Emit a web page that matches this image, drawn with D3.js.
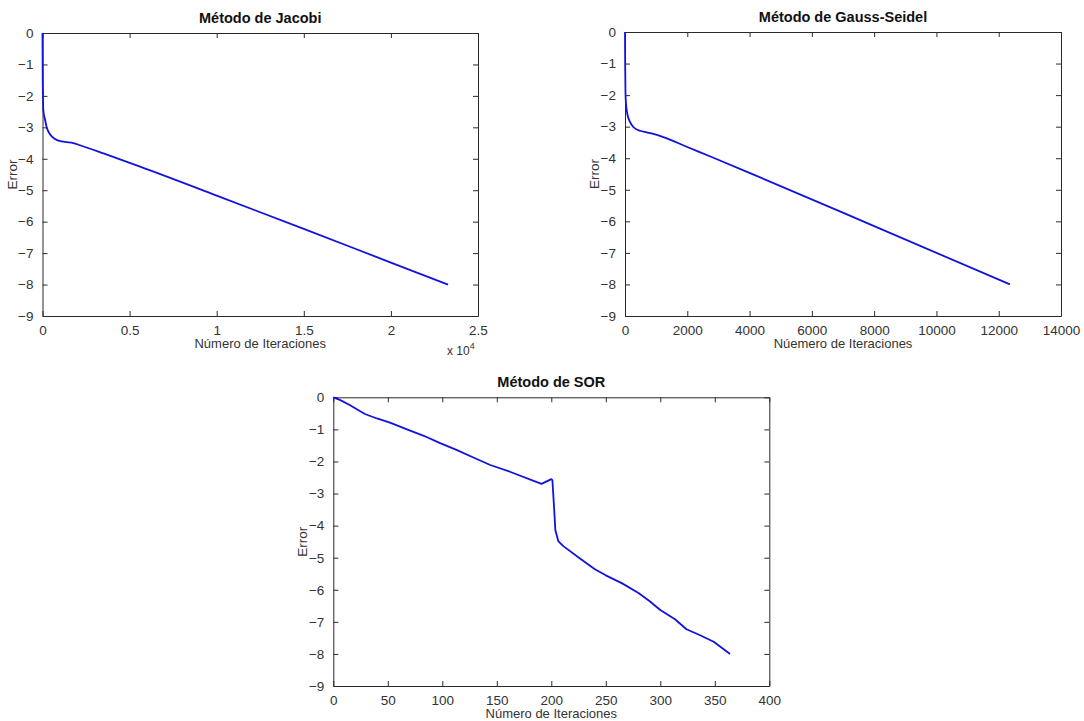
<!DOCTYPE html>
<html><head><meta charset="utf-8">
<script src="https://cdn.jsdelivr.net/npm/d3@7"></script>
<style>
body{margin:0;background:#fff;}
svg{display:block;font-family:"Liberation Sans",Arial,sans-serif;}
</style></head>
<body>
<svg id="c" width="1084" height="721"></svg>
<script>
// ---- data ----
const jacobiIter = [0, 10, 30, 46, 144, 241, 430, 718, 1102, 1389, 1768, 2153, 3500, 5600, 10000, 15000, 20000, 23280];
const jacobiErr  = [0, -1.2, -2.1, -2.45, -2.75, -3.0, -3.22, -3.37, -3.45, -3.47, -3.5, -3.57, -3.83, -4.25, -5.17, -6.23, -7.3, -8.0];
const gaussIter = [0, 5, 15, 32, 74, 161, 267, 482, 697, 909, 1230, 2000, 2800, 4014, 8000, 12360];
const gaussErr  = [0, -1.0, -1.9, -2.27, -2.59, -2.85, -3.01, -3.13, -3.18, -3.23, -3.33, -3.645, -3.97, -4.47, -6.15, -8.0];
const sorIter = [0, 6, 15, 29, 40, 52, 67, 83, 98, 113, 128, 144, 162, 191, 200, 201, 202.5, 203.7, 206.4, 211, 226, 240, 250, 265, 280, 290, 300, 313.5, 324, 336, 349, 364];
const sorErr  = [0, -0.08, -0.24, -0.52, -0.66, -0.79, -0.99, -1.2, -1.43, -1.64, -1.87, -2.11, -2.32, -2.7, -2.55, -2.58, -3.41, -4.14, -4.48, -4.64, -5.02, -5.36, -5.55, -5.8, -6.1, -6.35, -6.63, -6.92, -7.23, -7.41, -7.62, -8.0];

const yTicks = [0, -1, -2, -3, -4, -5, -6, -7, -8, -9];
const jacobiXTicks = [0, 5000, 10000, 15000, 20000, 25000];
const jacobiXLabels = ["0", "0.5", "1", "1.5", "2", "2.5"];
const gaussXTicks = [0, 2000, 4000, 6000, 8000, 10000, 12000, 14000];
const sorXTicks = [0, 50, 100, 150, 200, 250, 300, 350, 400];

const titles = ["Método de Jacobi", "Método de Gauss-Seidel", "Método de SOR"];
const xLabels = ["Número de Iteraciones", "Núemero de Iteraciones", "Número de Iteraciones"];
const yLabel = "Error";

const svg = d3.select("#c");
const axisColor = "#2a2a2a";
const lineColor = "#1212e0";

function panel(o) {
  const g = svg.append("g");
  const x = d3.scaleLinear().domain(o.xDomain).range([o.left, o.right]);
  const y = d3.scaleLinear().domain([-9, 0]).range([o.bottom, o.top]);
  const tickFmt = (d, i) => o.xLabels ? o.xLabels[i] : String(d);

  const gb = g.append("g").attr("transform", `translate(0,${o.bottom})`)
    .call(d3.axisBottom(x).tickValues(o.xTicks).tickFormat(tickFmt).tickSizeInner(-5).tickSizeOuter(0).tickPadding(9));
  const gt = g.append("g").attr("transform", `translate(0,${o.top})`)
    .call(d3.axisTop(x).tickValues(o.xTicks).tickFormat("").tickSizeInner(-5).tickSizeOuter(0));
  const gl = g.append("g").attr("transform", `translate(${o.left},0)`)
    .call(d3.axisLeft(y).tickValues(yTicks).tickFormat(d3.format("d")).tickSizeInner(-5).tickSizeOuter(0).tickPadding(9));
  const gr = g.append("g").attr("transform", `translate(${o.right},0)`)
    .call(d3.axisRight(y).tickValues(yTicks).tickFormat("").tickSizeInner(-5).tickSizeOuter(0));
  [gb, gt, gl, gr].forEach(a => {
    a.select(".domain").attr("stroke", axisColor).attr("stroke-width", 1);
    a.selectAll(".tick line").attr("stroke", axisColor);
    a.selectAll(".tick text").attr("fill", "#333").attr("font-size", 13.5)
      .attr("font-family", "'Liberation Sans', Arial, sans-serif");
  });

  const line = d3.line().x(d => x(d[0])).y(d => y(d[1])).curve(o.curve || d3.curveLinear);
  g.append("path").datum(o.iter.map((v, i) => [v, o.err[i]]))
    .attr("d", line).attr("fill", "none").attr("stroke", lineColor)
    .attr("stroke-width", 1.8).attr("stroke-linejoin", "round");

  g.append("text").attr("x", (o.left + o.right) / 2).attr("y", o.top - 10)
    .attr("text-anchor", "middle").attr("font-size", 14.5).attr("fill", "#111")
    .style("font-weight", "bold").text(o.title);
  g.append("text").attr("x", (o.left + o.right) / 2).attr("y", o.bottom + 32)
    .attr("text-anchor", "middle").attr("font-size", 13).attr("fill", "#333").text(o.xLabel);
  g.append("text").attr("transform", `translate(${o.left - 26},${(o.top + o.bottom) / 2}) rotate(-90)`)
    .attr("text-anchor", "middle").attr("font-size", 13.5).attr("fill", "#333").text(yLabel);
  return {x, y, g};
}

const p1 = panel({left: 42.5, right: 478, top: 33, bottom: 316, xDomain: [0, 25000],
  xTicks: jacobiXTicks, xLabels: jacobiXLabels, iter: jacobiIter, err: jacobiErr,
  title: titles[0], xLabel: xLabels[0], curve: d3.curveMonotoneX});
const mult = p1.g.append("text").attr("x", 447).attr("y", 355).attr("font-size", 12).attr("fill", "#333");
mult.append("tspan").text("x 10");
mult.append("tspan").attr("dy", -6).attr("font-size", 9).text("4");

panel({left: 625, right: 1061, top: 32, bottom: 316, xDomain: [0, 14000],
  xTicks: gaussXTicks, iter: gaussIter, err: gaussErr,
  title: titles[1], xLabel: xLabels[1], curve: d3.curveMonotoneX});

panel({left: 333.3, right: 769.3, top: 397.3, bottom: 686, xDomain: [0, 400],
  xTicks: sorXTicks, iter: sorIter, err: sorErr,
  title: titles[2], xLabel: xLabels[2]});
</script>
</body></html>
